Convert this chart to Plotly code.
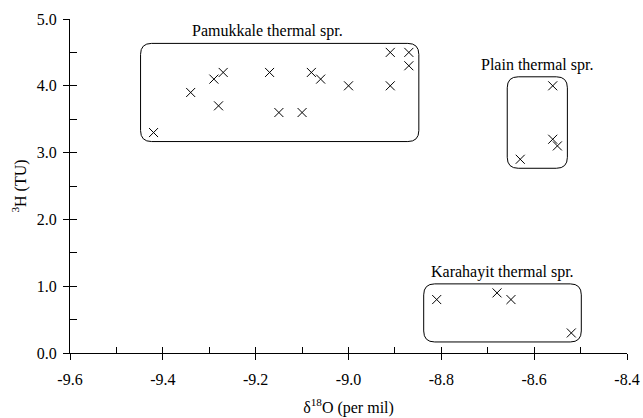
import plotly.graph_objects as go

# ---- data ----
pam_x = [-9.42, -9.34, -9.29, -9.28, -9.27, -9.17, -9.15, -9.10, -9.08, -9.06, -9.00, -8.91, -8.91, -8.87, -8.87]
pam_y = [3.3, 3.9, 4.1, 3.7, 4.2, 4.2, 3.6, 3.6, 4.2, 4.1, 4.0, 4.5, 4.0, 4.5, 4.3]
pla_x = [-8.56, -8.56, -8.55, -8.63]
pla_y = [4.0, 3.2, 3.1, 2.9]
kar_x = [-8.81, -8.68, -8.65, -8.52]
kar_y = [0.8, 0.9, 0.8, 0.3]
group_names = ["Pamukkale thermal spr.", "Plain thermal spr.", "Karahayit thermal spr."]

x_tickvals = [-9.6, -9.4, -9.2, -9.0, -8.8, -8.6, -8.4]
x_ticktext = ["-9.6", "-9.4", "-9.2", "-9.0", "-8.8", "-8.6", "-8.4"]
y_tickvals = [0, 1, 2, 3, 4, 5]
y_ticktext = ["0.0", "1.0", "2.0", "3.0", "4.0", "5.0"]

x_range = [-9.6, -8.4]
y_range = [0.0, 5.0]

W, H = 643, 418
M = dict(l=70, r=16, t=19, b=65)
FONT = "Liberation Serif"

px_per_x = (W - M["l"] - M["r"]) / (x_range[1] - x_range[0])
px_per_y = (H - M["t"] - M["b"]) / (y_range[1] - y_range[0])

fig = go.Figure()
groups = [(pam_x, pam_y), (pla_x, pla_y), (kar_x, kar_y)]
for (gx, gy), name in zip(groups, group_names):
    fig.add_trace(go.Scatter(
        x=gx, y=gy, mode="markers", name=name, showlegend=False,
        marker=dict(symbol="x-thin-open", size=9, color="black",
                    line=dict(color="black", width=1)),
    ))

# rounded enclosures around each group (computed from data extents)
pad_l, pad_r, pad_t, pad_b = 13, 10, 9, 9   # px
rad = 11  # px
label_xshift = [-12, 0, 0]
for (gx, gy), name, xs in zip(groups, group_names, label_xshift):
    x0 = min(gx) - pad_l / px_per_x
    x1 = max(gx) + pad_r / px_per_x
    y0 = min(gy) - pad_b / px_per_y
    y1 = max(gy) + pad_t / px_per_y
    rx = rad / px_per_x
    ry = rad / px_per_y
    path = (f"M {x0+rx},{y1} L {x1-rx},{y1} Q {x1},{y1} {x1},{y1-ry} "
            f"L {x1},{y0+ry} Q {x1},{y0} {x1-rx},{y0} "
            f"L {x0+rx},{y0} Q {x0},{y0} {x0},{y0+ry} "
            f"L {x0},{y1-ry} Q {x0},{y1} {x0+rx},{y1} Z")
    fig.add_shape(type="path", path=path, xref="x", yref="y",
                  line=dict(color="black", width=1), layer="above")
    fig.add_annotation(x=(x0 + x1) / 2, y=y1, xref="x", yref="y",
                       text=name, showarrow=False, yanchor="middle",
                       yshift=12, xshift=xs,
                       font=dict(family=FONT, size=16, color="black"))

fig.update_layout(
    width=W, height=H, margin=M,
    paper_bgcolor="white", plot_bgcolor="white",
    font=dict(family=FONT, size=16, color="black"),
    showlegend=False,
    xaxis=dict(range=x_range, tickmode="array", tickvals=x_tickvals, ticktext=x_ticktext,
               ticks="outside", ticklen=6, tickwidth=1, tickcolor="black",
               ticklabelstandoff=6, automargin=False,
               tickfont=dict(family=FONT, size=16, color="black"),
               showline=True, linecolor="black", linewidth=1,
               showgrid=False, zeroline=False,
               title=dict(text="δ<sup>18</sup>O (per mil)", standoff=14,
                          font=dict(family=FONT, size=16, color="black"))),
    yaxis=dict(range=y_range, tickmode="array", tickvals=y_tickvals, ticktext=y_ticktext,
               ticks="outside", ticklen=6, tickwidth=1, tickcolor="black",
               ticklabelstandoff=3, automargin=False,
               tickfont=dict(family=FONT, size=16, color="black"),
               showline=True, linecolor="black", linewidth=1,
               showgrid=False, zeroline=False,
               title=dict(text="<sup>3</sup>H (TU)", standoff=6,
                          font=dict(family=FONT, size=16, color="black"))),
    xaxis2=dict(range=x_range, overlaying="x", anchor="y", side="bottom",
                tick0=-9.6, dtick=0.1, ticks="inside", ticklen=6,
                tickcolor="black", showticklabels=False, showline=False,
                showgrid=False, zeroline=False, automargin=False),
    yaxis2=dict(range=y_range, overlaying="y", anchor="x", side="left",
                tick0=0, dtick=0.5, ticks="inside", ticklen=7,
                tickcolor="black", showticklabels=False, showline=False,
                showgrid=False, zeroline=False, automargin=False),
)
fig.add_trace(go.Scatter(x=[None], y=[None], xaxis="x2", yaxis="y2",
                         showlegend=False, hoverinfo="skip"))

fig.write_html("out.html")
